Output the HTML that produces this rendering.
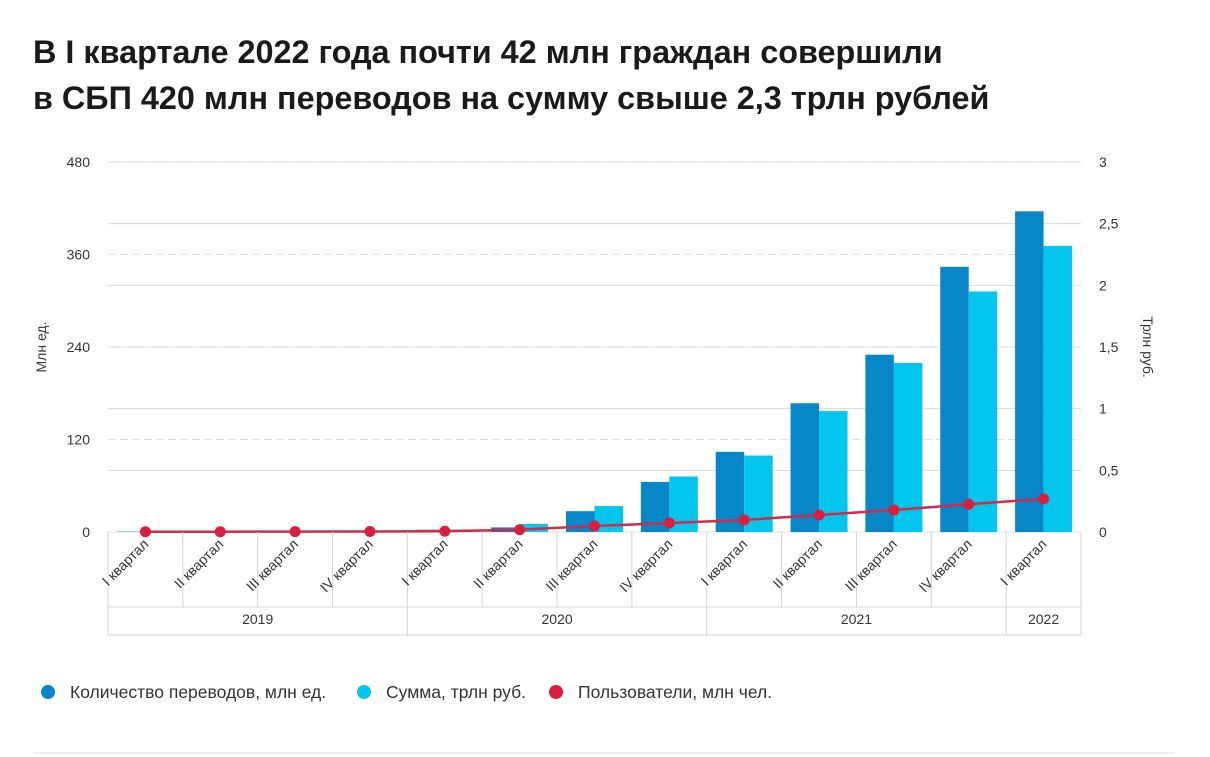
<!DOCTYPE html>
<html><head><meta charset="utf-8">
<style>
body{margin:0;background:#fff;width:1210px;height:757px;overflow:hidden;font-family:"Liberation Sans","Noto Sans CJK SC",sans-serif;}
h1{position:absolute;left:33px;top:29px;margin:0;font-size:32.4px;line-height:46px;font-weight:bold;color:#1a1a1a;}
svg{position:absolute;left:0;top:0;}
</style></head><body>
<h1>В I квартале 2022 года почти 42 млн граждан совершили<br>в СБП 420 млн переводов на сумму свыше 2,3 трлн рублей</h1>
<svg id="c" width="1210" height="757"></svg>
<script>
const quarters=["I квартал","II квартал","III квартал","IV квартал","I квартал","II квартал","III квартал","IV квартал","I квартал","II квартал","III квартал","IV квартал","I квартал"];
const years=["2019","2020","2021","2022"];
const yearSpans=[4,4,4,1];
const transfers=[0.5,1,1.5,2,3,6,27,65,104,167,230,344,416];
const sums=[0.002,0.004,0.006,0.01,0.02,0.065,0.21,0.45,0.62,0.98,1.37,1.95,2.32];
const users=[0.3,0.4,0.5,0.6,1,3,7.8,11.7,15.6,22,28.5,36,43];
const leftTicks=[0,120,240,360,480];
const rightTicks=[0,0.5,1,1.5,2,2.5,3];
const rightTickLabels=["0","0,5","1","1,5","2","2,5","3"];

const svg=document.getElementById('c');
const NS="http://www.w3.org/2000/svg";
const X0=108,X1=1081,Y0=532,Y1=162;
const cw=(X1-X0)/quarters.length;
const yL=v=>Y0-(v/480)*(Y0-Y1);
const yR=v=>Y0-(v/3)*(Y0-Y1);
const xC=i=>X0+cw*(i+0.5);
function el(t,a,txt){const e=document.createElementNS(NS,t);for(const k in a)e.setAttribute(k,a[k]);if(txt!=null)e.textContent=txt;svg.appendChild(e);return e;}
const F='"Liberation Sans",sans-serif';
rightTicks.forEach((v,i)=>{
 const g=el('line',{x1:X0,x2:X1,y1:yR(v),y2:yR(v),stroke:'#d8d8d8','stroke-width':1});
 
 
 const t=el('text',{x:1099,y:yR(v)+5,'font-size':14,'font-family':F,fill:'#333'},rightTickLabels[i]);
 
 
});
leftTicks.forEach(v=>{
 const g=el('line',{x1:X0,x2:X1,y1:yL(v),y2:yL(v),stroke:'#dcdcdc','stroke-width':1,'stroke-dasharray':v==0?'':'8 4'});
 
 
 const t=el('text',{x:90,y:yL(v)+5,'font-size':14,'font-family':F,fill:'#333','text-anchor':'end'},String(v));
 
 
});
let ta=el('text',{transform:'translate(46,347) rotate(-90)','font-size':14,'font-family':F,fill:'#333','text-anchor':'middle'},'Млн ед.');


ta=el('text',{transform:'translate(1143,347) rotate(90)','font-size':14,'font-family':F,fill:'#333','text-anchor':'middle'},'Трлн руб.');


const bw=28.5;
quarters.forEach((q,i)=>{
 const c=xC(i);
 const b1=el('rect',{x:c-bw,y:yL(transfers[i]),width:bw,height:Y0-yL(transfers[i]),fill:'#0786c8'});
 
 
 const b2=el('rect',{x:c,y:yR(sums[i]),width:bw,height:Y0-yR(sums[i]),fill:'#04c5ee'});
 
 
});
const pts=users.map((v,i)=>xC(i)+','+yL(v)).join(' ');
const ln=el('polyline',{points:pts,fill:'none',stroke:'#d42a45','stroke-width':2.5});


users.forEach((v,i)=>{
 const d=el('circle',{cx:xC(i),cy:yL(v),r:5.5,fill:'#d81f3e'});
 
 
});
el('line',{x1:X0,x2:X0,y1:Y0,y2:635,stroke:'#d4d4d4'});
el('line',{x1:X1,x2:X1,y1:Y0,y2:635,stroke:'#d4d4d4'});
el('line',{x1:X0,x2:X1,y1:607,y2:607,stroke:'#d4d4d4'});
el('line',{x1:X0,x2:X1,y1:635,y2:635,stroke:'#d4d4d4'});
for(let i=1;i<quarters.length;i++){el('line',{x1:X0+cw*i,x2:X0+cw*i,y1:Y0,y2:607,stroke:'#d4d4d4'});}
quarters.forEach((q,i)=>{
 const t=el('text',{transform:`translate(${xC(i)+4},${545}) rotate(-45)`,'font-size':14,'font-family':F,fill:'#333','text-anchor':'end'},q);
 
 
});
let s=0;
years.forEach((y,j)=>{
 const a=X0+cw*s,b=X0+cw*(s+yearSpans[j]);
 if(s>0)el('line',{x1:a,x2:a,y1:607,y2:635,stroke:'#d4d4d4'});
 const t=el('text',{x:(a+b)/2,y:624,'font-size':14,'font-family':F,fill:'#333','text-anchor':'middle'},y);
 
 
 s+=yearSpans[j];
});
const leg=[["#0786c8","Количество переводов, млн ед.",48],["#04c5ee","Сумма, трлн руб.",364],["#d81f3e","Пользователи, млн чел.",556]];
leg.forEach(l=>{
 const c=el('circle',{cx:l[2],cy:692,r:7,fill:l[0]});
 
 
 const t=el('text',{x:l[2]+22,y:698,'font-size':17.5,'font-family':F,fill:'#333'},l[1]);
 
 
});
el('line',{x1:33,x2:1175,y1:753,y2:753,stroke:'#e6e6e6'});
</script>
</body></html>
